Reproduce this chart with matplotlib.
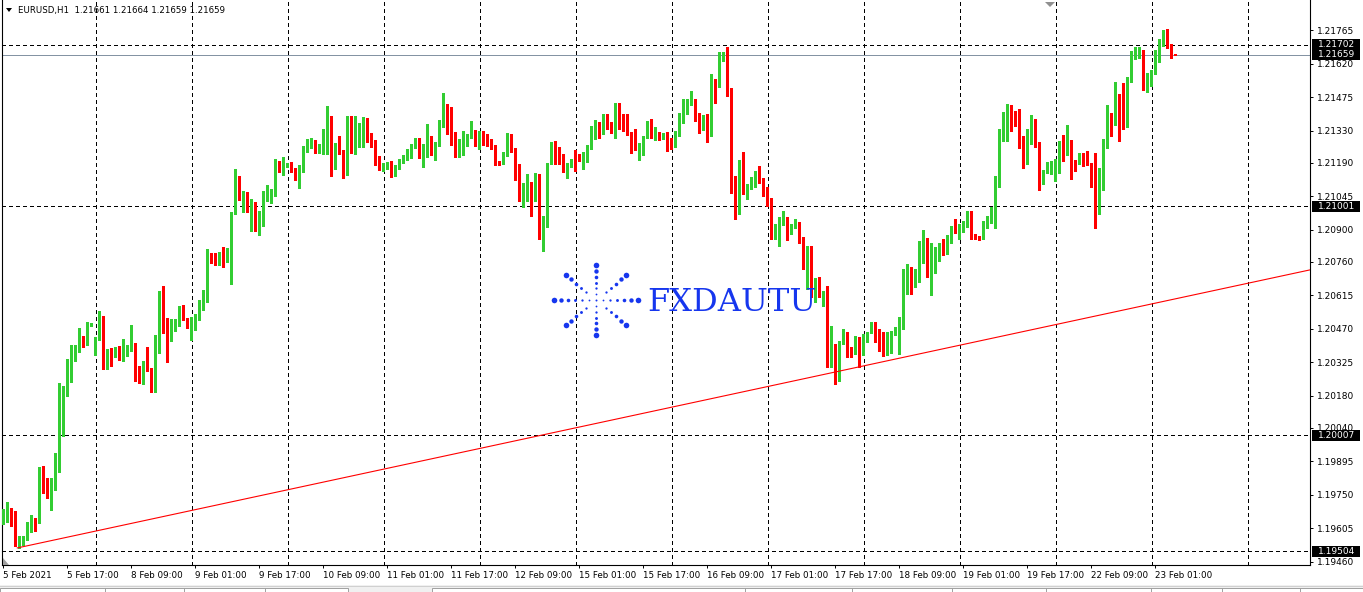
import matplotlib
matplotlib.use("Agg")
import matplotlib.pyplot as plt
import numpy as np
from matplotlib.patches import Rectangle, Polygon
from matplotlib.transforms import blended_transform_factory

# ---------------- data (EURUSD H1, 5 Feb 2021 01:00 .. 23 Feb 2021 06:00) ----------------
opens = [
1.19639,1.19657,1.19687,1.19657,1.19530,1.19539,1.19556,1.19626,1.19648,1.19626,1.19838,1.19764,
1.19734,1.19800,1.19887,1.20030,1.20203,1.20238,1.20342,1.20368,1.20424,1.20424,1.20485,1.20355,
1.20420,1.20481,1.20316,1.20381,1.20355,1.20381,1.20338,1.20359,1.20381,1.20402,1.20303,1.20272,
1.20321,1.20294,1.20255,1.20368,1.20559,1.20459,1.20438,1.20464,1.20494,1.20551,1.20511,1.20424,
1.20468,1.20516,1.20572,1.20589,1.20793,1.20763,1.20750,1.20776,1.20763,1.20806,1.20972,1.21093,
1.21032,1.21049,1.20985,1.21015,1.20906,1.20976,1.21045,1.21045,1.21045,1.21180,1.21158,1.21176,
1.21184,1.21162,1.21145,1.21153,1.21240,1.21262,1.21283,1.21236,1.21270,1.21300,1.21388,1.21189,
1.21245,1.21236,1.21158,1.21283,1.21236,1.21305,1.21305,1.21379,1.21288,1.21283,1.21189,1.21167,
1.21171,1.21184,1.21136,1.21167,1.21193,1.21202,1.21214,1.21257,1.21292,1.21227,1.21227,1.21300,
1.21227,1.21266,1.21349,1.21436,1.21344,1.21292,1.21253,1.21266,1.21305,1.21300,1.21323,1.21283,
1.21318,1.21305,1.21283,1.21266,1.21193,1.21184,1.21223,1.21310,1.21245,1.21145,1.21023,1.21071,
1.21084,1.21062,1.21123,1.20863,1.20911,1.21184,1.21249,1.21223,1.21206,1.21149,1.21176,1.21240,
1.21219,1.21197,1.21202,1.21262,1.21318,1.21340,1.21314,1.21375,1.21344,1.21327,1.21397,1.21344,
1.21331,1.21323,1.21296,1.21262,1.21232,1.21305,1.21362,1.21305,1.21310,1.21296,1.21305,1.21262,
1.21257,1.21314,1.21366,1.21419,1.21449,1.21462,1.21388,1.21357,1.21392,1.21305,1.21549,1.21523,
1.21636,1.21648,1.21496,1.21075,1.20967,1.21193,1.21062,1.21084,1.21119,1.21149,1.21110,1.21049,
1.21010,1.20880,1.20880,1.20923,1.20945,1.20893,1.20911,1.20928,1.20858,1.20733,1.20768,1.20672,
1.20685,1.20615,1.20628,1.20329,1.20394,1.20325,1.20407,1.20451,1.20377,1.20364,1.20415,1.20368,
1.20429,1.20455,1.20485,1.20446,1.20433,1.20359,1.20364,1.20451,1.20455,1.20472,1.20685,1.20733,
1.20659,1.20720,1.20780,1.20845,1.20698,1.20715,1.20768,1.20815,1.20798,1.20845,1.20911,1.20889,
1.20898,1.20915,1.20972,1.20872,1.20867,1.20858,1.20919,1.20936,1.20949,1.21088,1.21323,1.21331,
1.21427,1.21375,1.21357,1.21300,1.21253,1.21275,1.21362,1.21262,1.21102,1.21149,1.21162,1.21115,
1.21210,1.21245,1.21227,1.21262,1.21197,1.21189,1.21202,1.21193,1.21189,1.21088,1.20993,1.21075,
1.21288,1.21362,1.21357,1.21470,1.21453,1.21379,1.21544,1.21648,1.21648,1.21670,1.21509,1.21527,
1.21579,1.21631,1.21700,1.21752,1.21692,1.21661]

highs = [
1.19687,1.19717,1.19691,1.19678,1.19570,1.19570,1.19630,1.19661,1.19648,1.19869,1.19874,1.19821,
1.19821,1.19930,1.20234,1.20221,1.20338,1.20398,1.20398,1.20472,1.20438,1.20498,1.20494,1.20433,
1.20546,1.20525,1.20381,1.20385,1.20389,1.20394,1.20424,1.20398,1.20485,1.20407,1.20308,1.20329,
1.20389,1.20299,1.20442,1.20632,1.20655,1.20516,1.20511,1.20511,1.20568,1.20572,1.20516,1.20520,
1.20533,1.20594,1.20637,1.20815,1.20798,1.20798,1.20802,1.20823,1.20819,1.20976,1.21162,1.21132,
1.21066,1.21062,1.21032,1.21019,1.20980,1.21066,1.21093,1.21075,1.21206,1.21197,1.21214,1.21189,
1.21193,1.21167,1.21180,1.21262,1.21292,1.21296,1.21288,1.21270,1.21336,1.21436,1.21392,1.21275,
1.21305,1.21245,1.21392,1.21392,1.21392,1.21362,1.21388,1.21384,1.21318,1.21288,1.21219,1.21189,
1.21193,1.21197,1.21180,1.21206,1.21223,1.21249,1.21270,1.21300,1.21296,1.21270,1.21357,1.21305,
1.21279,1.21375,1.21492,1.21444,1.21431,1.21323,1.21292,1.21327,1.21314,1.21370,1.21331,1.21327,
1.21327,1.21314,1.21292,1.21266,1.21197,1.21236,1.21318,1.21314,1.21253,1.21184,1.21102,1.21140,
1.21106,1.21145,1.21140,1.20958,1.21189,1.21279,1.21283,1.21257,1.21227,1.21189,1.21206,1.21245,
1.21227,1.21236,1.21266,1.21349,1.21375,1.21366,1.21401,1.21401,1.21366,1.21449,1.21449,1.21401,
1.21401,1.21323,1.21336,1.21275,1.21305,1.21370,1.21379,1.21344,1.21323,1.21318,1.21323,1.21296,
1.21327,1.21405,1.21466,1.21466,1.21501,1.21466,1.21405,1.21397,1.21401,1.21574,1.21553,1.21670,
1.21670,1.21691,1.21514,1.21132,1.21202,1.21236,1.21097,1.21127,1.21153,1.21176,1.21123,1.21084,
1.21036,1.20923,1.20954,1.20980,1.20954,1.20923,1.20945,1.20932,1.20867,1.20828,1.20828,1.20689,
1.20694,1.20632,1.20655,1.20481,1.20402,1.20415,1.20468,1.20455,1.20389,1.20438,1.20433,1.20446,
1.20455,1.20498,1.20498,1.20468,1.20455,1.20455,1.20459,1.20477,1.20520,1.20728,1.20750,1.20737,
1.20728,1.20850,1.20898,1.20863,1.20841,1.20823,1.20841,1.20858,1.20876,1.20915,1.20945,1.20923,
1.20936,1.20980,1.20980,1.20880,1.20872,1.20936,1.20958,1.20997,1.21132,1.21336,1.21410,1.21444,
1.21440,1.21414,1.21423,1.21305,1.21336,1.21397,1.21379,1.21279,1.21158,1.21193,1.21197,1.21206,
1.21283,1.21310,1.21353,1.21288,1.21202,1.21232,1.21232,1.21240,1.21189,1.21232,1.21167,1.21292,
1.21440,1.21405,1.21540,1.21488,1.21536,1.21561,1.21674,1.21692,1.21692,1.21679,1.21579,1.21592,
1.21679,1.21726,1.21765,1.21770,1.21705,1.21664]

lows = [
1.19621,1.19630,1.19613,1.19526,1.19517,1.19530,1.19552,1.19587,1.19591,1.19626,1.19756,1.19734,
1.19683,1.19769,1.19847,1.20004,1.20177,1.20238,1.20329,1.20368,1.20389,1.20398,1.20481,1.20355,
1.20420,1.20294,1.20294,1.20308,1.20346,1.20334,1.20329,1.20351,1.20372,1.20242,1.20234,1.20229,
1.20285,1.20194,1.20194,1.20364,1.20451,1.20325,1.20415,1.20459,1.20481,1.20507,1.20472,1.20420,
1.20464,1.20507,1.20551,1.20585,1.20755,1.20746,1.20746,1.20737,1.20759,1.20663,1.20967,1.21028,
1.20976,1.20976,1.20893,1.20893,1.20876,1.20915,1.21023,1.21015,1.21045,1.21149,1.21136,1.21171,
1.21149,1.21115,1.21080,1.21149,1.21236,1.21253,1.21232,1.21232,1.21227,1.21227,1.21132,1.21162,
1.21227,1.21123,1.21136,1.21232,1.21227,1.21257,1.21257,1.21279,1.21257,1.21180,1.21158,1.21153,
1.21162,1.21127,1.21132,1.21162,1.21189,1.21202,1.21210,1.21253,1.21210,1.21171,1.21214,1.21223,
1.21202,1.21262,1.21344,1.21314,1.21266,1.21214,1.21214,1.21223,1.21262,1.21296,1.21262,1.21249,
1.21266,1.21262,1.21249,1.21180,1.21180,1.21184,1.21219,1.21236,1.21115,1.21023,1.20997,1.21023,
1.20958,1.21023,1.20858,1.20806,1.20911,1.21184,1.21184,1.21184,1.21149,1.21123,1.21171,1.21153,
1.21197,1.21162,1.21193,1.21249,1.21292,1.21296,1.21314,1.21336,1.21318,1.21300,1.21336,1.21327,
1.21310,1.21232,1.21245,1.21202,1.21223,1.21300,1.21296,1.21288,1.21288,1.21292,1.21240,1.21249,
1.21257,1.21305,1.21362,1.21401,1.21440,1.21370,1.21318,1.21331,1.21279,1.21305,1.21449,1.21518,
1.21631,1.21479,1.21058,1.20945,1.20967,1.21053,1.21032,1.21075,1.21084,1.21102,1.21045,1.21002,
1.20858,1.20858,1.20828,1.20919,1.20854,1.20880,1.20906,1.20841,1.20728,1.20641,1.20607,1.20585,
1.20607,1.20568,1.20303,1.20303,1.20229,1.20242,1.20402,1.20346,1.20346,1.20359,1.20303,1.20355,
1.20411,1.20451,1.20411,1.20372,1.20351,1.20355,1.20364,1.20442,1.20359,1.20468,1.20620,1.20620,
1.20650,1.20672,1.20755,1.20694,1.20615,1.20711,1.20763,1.20789,1.20793,1.20841,1.20885,1.20858,
1.20889,1.20911,1.20858,1.20858,1.20854,1.20858,1.20906,1.20928,1.20906,1.21084,1.21283,1.21283,
1.21327,1.21349,1.21253,1.21167,1.21184,1.21270,1.21257,1.21071,1.21097,1.21145,1.21140,1.21110,
1.21145,1.21197,1.21223,1.21119,1.21153,1.21184,1.21176,1.21180,1.21084,1.20906,1.20967,1.21071,
1.21253,1.21305,1.21353,1.21283,1.21336,1.21344,1.21540,1.21640,1.21644,1.21505,1.21496,1.21523,
1.21574,1.21627,1.21696,1.21687,1.21644,1.21659]

closes = [
1.19661,1.19687,1.19657,1.19534,1.19543,1.19556,1.19626,1.19652,1.19626,1.19838,1.19760,1.19734,
1.19800,1.19895,1.20034,1.20212,1.20234,1.20346,1.20377,1.20424,1.20420,1.20485,1.20489,1.20415,
1.20481,1.20316,1.20381,1.20355,1.20381,1.20338,1.20381,1.20389,1.20402,1.20303,1.20272,1.20321,
1.20290,1.20255,1.20372,1.20559,1.20459,1.20438,1.20468,1.20498,1.20551,1.20511,1.20489,1.20485,
1.20516,1.20577,1.20589,1.20793,1.20763,1.20750,1.20776,1.20763,1.20811,1.20972,1.21093,1.21036,
1.21049,1.20985,1.21015,1.20906,1.20976,1.21045,1.21049,1.21049,1.21180,1.21158,1.21180,1.21184,
1.21167,1.21145,1.21153,1.21240,1.21266,1.21283,1.21236,1.21270,1.21300,1.21388,1.21189,1.21245,
1.21236,1.21158,1.21283,1.21236,1.21305,1.21310,1.21384,1.21283,1.21283,1.21189,1.21171,1.21180,
1.21184,1.21132,1.21171,1.21197,1.21206,1.21214,1.21262,1.21296,1.21227,1.21232,1.21300,1.21227,
1.21270,1.21349,1.21436,1.21344,1.21270,1.21257,1.21270,1.21305,1.21310,1.21323,1.21283,1.21314,
1.21305,1.21283,1.21266,1.21193,1.21184,1.21223,1.21310,1.21245,1.21145,1.21023,1.21080,1.21084,
1.21062,1.21123,1.20863,1.20915,1.21189,1.21245,1.21223,1.21206,1.21149,1.21180,1.21184,1.21219,
1.21202,1.21206,1.21266,1.21323,1.21340,1.21314,1.21375,1.21344,1.21327,1.21397,1.21344,1.21331,
1.21323,1.21296,1.21262,1.21266,1.21305,1.21362,1.21300,1.21310,1.21296,1.21305,1.21262,1.21257,
1.21323,1.21370,1.21423,1.21453,1.21462,1.21388,1.21357,1.21392,1.21305,1.21549,1.21523,1.21636,
1.21648,1.21496,1.21075,1.20967,1.21193,1.21062,1.21084,1.21123,1.21149,1.21110,1.21049,1.21010,
1.20885,1.20889,1.20928,1.20945,1.20893,1.20915,1.20928,1.20858,1.20733,1.20768,1.20672,1.20685,
1.20615,1.20628,1.20329,1.20394,1.20325,1.20407,1.20451,1.20377,1.20364,1.20398,1.20308,1.20433,
1.20451,1.20485,1.20446,1.20433,1.20359,1.20368,1.20455,1.20455,1.20477,1.20685,1.20733,1.20659,
1.20720,1.20776,1.20845,1.20698,1.20720,1.20772,1.20815,1.20798,1.20850,1.20911,1.20889,1.20902,
1.20915,1.20972,1.20872,1.20867,1.20858,1.20928,1.20941,1.20949,1.21093,1.21323,1.21336,1.21427,
1.21375,1.21357,1.21300,1.21253,1.21283,1.21362,1.21262,1.21106,1.21153,1.21167,1.21171,1.21206,
1.21249,1.21227,1.21262,1.21193,1.21193,1.21202,1.21193,1.21189,1.21088,1.20993,1.21080,1.21288,
1.21362,1.21357,1.21470,1.21453,1.21379,1.21544,1.21653,1.21653,1.21670,1.21509,1.21531,1.21587,
1.21644,1.21705,1.21752,1.21692,1.21666,1.21659]

x_tick_bars = [0, 16, 32, 48, 64, 80, 96, 112, 128, 144, 160, 176, 192, 208, 224, 240, 256, 272, 288]
x_tick_labels = ["5 Feb 2021", "5 Feb 17:00", "8 Feb 09:00", "9 Feb 01:00", "9 Feb 17:00",
                 "10 Feb 09:00", "11 Feb 01:00", "11 Feb 17:00", "12 Feb 09:00", "15 Feb 01:00",
                 "15 Feb 17:00", "16 Feb 09:00", "17 Feb 01:00", "17 Feb 17:00", "18 Feb 09:00",
                 "19 Feb 01:00", "19 Feb 17:00", "22 Feb 09:00", "23 Feb 01:00"]
day_grid_bars = [23, 47, 71, 95, 119, 143, 167, 191, 215, 239, 263, 287, 311]
y_tick_values = [1.21765, 1.21620, 1.21475, 1.21330, 1.21190, 1.21045, 1.20900, 1.20760, 1.20615,
                 1.20470, 1.20325, 1.20180, 1.20040, 1.19895, 1.19750, 1.19605, 1.19460]
y_tick_labels = ["1.21765", "1.21620", "1.21475", "1.21330", "1.21190", "1.21045", "1.20900",
                 "1.20760", "1.20615", "1.20470", "1.20325", "1.20180", "1.20040", "1.19895",
                 "1.19750", "1.19605", "1.19460"]
hline_prices = [1.21702, 1.21001, 1.20007, 1.19504]
bid_price = 1.21659
trend_anchor1 = (3.5, 1.19519)
trend_anchor2 = (214, 1.20305)
symbol_title = "EURUSD,H1"
logo_text = "FXDAUTU"

# ---------------- figure ----------------
W, H = 1363, 592
fig = plt.figure(figsize=(W / 100, H / 100), dpi=100)
fig.patch.set_facecolor("white")
AX_L, AX_R, AX_T, AX_B = 2, 1310, 0, 565
ax = fig.add_axes([AX_L / W, 1 - AX_B / H, (AX_R - AX_L) / W, (AX_B - AX_T) / H])
PX = 0.0000434          # price per pixel
x_left = (AX_L - 3.3) / 4.0
x_right = x_left + (AX_R - AX_L) / 4.0
y_top = 1.21897
y_bot = y_top - (AX_B - AX_T) * PX
ax.set_xlim(x_left, x_right)
ax.set_ylim(y_bot, y_top)
ax.set_facecolor("white")

o = np.array(opens); h = np.array(highs); l = np.array(lows); c = np.array(closes)
xs = np.arange(len(c))
up = c >= o
cols = np.where(up, "#32CD32", "#FF0000")

# grid (daily separators)
for b in day_grid_bars:
    ax.axvline(b + 0.15, color="black", lw=0.72, ls=(0, (4, 3)), zorder=1, antialiased=False)

# horizontal line objects
for p in hline_prices:
    ax.axhline(p, color="black", lw=0.72, ls=(0, (4, 3)), zorder=2, antialiased=False)
ax.axhline(bid_price, color="#8493a3", lw=0.72, zorder=2, antialiased=False)

# candles
ax.vlines(xs, l, h, colors=cols, linewidth=0.75, antialiased=False, zorder=3)
bottoms = np.minimum(o, c)
heights = np.maximum(np.abs(c - o), 0.6 * PX)
ax.bar(xs, heights, width=0.75, bottom=bottoms, color=cols, linewidth=0,
       antialiased=False, zorder=4)

# trend line (ray)
(x1, p1), (x2, p2) = trend_anchor1, trend_anchor2
slope = (p2 - p1) / (x2 - x1)
ax.plot([x1, x_right], [p1, p1 + slope * (x_right - x1)], color="#FF0000", lw=0.8, zorder=5)

# axes styling
ax.spines["top"].set_visible(False)
for s in ["left", "right", "bottom"]:
    ax.spines[s].set_color("black")
    ax.spines[s].set_linewidth(0.8)

ax.yaxis.tick_right()
ax.set_yticks(y_tick_values)
ax.set_yticklabels(y_tick_labels)
ax.tick_params(axis="y", direction="out", length=2.5, width=0.7, pad=2.5,
               labelsize=6.5, colors="black")
ax.set_xticks(x_tick_bars)
ax.set_xticklabels(x_tick_labels, ha="left")
ax.tick_params(axis="x", direction="out", length=2.5, width=0.7, pad=1.5,
               labelsize=6.3, colors="black")
for lab in ax.get_xticklabels():
    lab.set_horizontalalignment("left")

# price boxes on the right scale
trans = blended_transform_factory(ax.transAxes, ax.transData)
axw = AX_R - AX_L
for p in hline_prices + [bid_price]:
    ax.add_patch(Rectangle((1 + 2 / axw, p - 5.5 * PX), 48 / axw, 11 * PX, transform=trans,
                           facecolor="black", edgecolor="none", clip_on=False, zorder=10))
    ax.text(1 + 8 / axw, p, f"{p:.5f}", transform=trans, color="white", fontsize=6.5,
            ha="left", va="center", clip_on=False, zorder=11)

# ---------------- overlay in pixel coordinates ----------------
ov = fig.add_axes([0, 0, 1, 1])
ov.set_xlim(0, W)
ov.set_ylim(H, 0)
ov.axis("off")
ov.patch.set_alpha(0)

# title
ov.add_patch(Polygon([(6, 8), (12, 8), (9, 12)], closed=True, facecolor="black", edgecolor="none"))
ov.text(18, 10.5, f"{symbol_title}  {opens[-1]:.5f} {highs[-1]:.5f} {lows[-1]:.5f} {closes[-1]:.5f}",
        fontsize=6.2, color="black", ha="left", va="center")

# chart shift marker and corner marker
ov.add_patch(Polygon([(1045, 2), (1055, 2), (1050, 7)], closed=True, facecolor="#909090", edgecolor="none"))
ov.add_patch(Polygon([(3, 558), (3, 565), (9, 565)], closed=True, facecolor="#a0a0a0", edgecolor="none"))

# bottom tab strip
ov.add_patch(Rectangle((0, 585), W, 7, facecolor="#f0f0f0", edgecolor="none"))
ov.plot([0, W], [585.5, 585.5], color="#d0d0d0", lw=0.7)
ov.add_patch(Rectangle((0, 587.5), 348, 6, facecolor="white", edgecolor="#a0a0a0", lw=0.7))
ov.add_patch(Rectangle((432, 587.5), 931, 6, facecolor="white", edgecolor="#a0a0a0", lw=0.7))
for sx in [105, 184, 265, 745, 852, 952, 1046, 1151, 1222, 1300]:
    ov.plot([sx, sx], [587.5, 592], color="#a0a0a0", lw=0.7)

# watermark logo
blue = "#1636ee"
cx, cy, rx, ry = 596, 300, 42, 35
fracs = [0.17, 0.33, 0.5, 0.66, 0.83, 1.0]
diams = [1.8, 2.3, 2.9, 3.6, 4.4, 5.6]
for k in range(8):
    ang = np.deg2rad(45 * k)
    for f, d in zip(fracs, diams):
        if k % 2 == 1 and f < 0.3:
            continue
        px = cx + rx * f * np.cos(ang)
        py = cy + ry * f * np.sin(ang)
        ov.scatter([px], [py], s=(0.72 * d) ** 2, color=blue, linewidths=0)
ov.scatter([cx], [cy], s=(0.72 * 2.0) ** 2, color=blue, linewidths=0)
ov.text(647, 311, logo_text, fontsize=23, family="DejaVu Serif", color=blue,
        ha="left", va="baseline")

fig.savefig("out.png", dpi=100, facecolor="white")
